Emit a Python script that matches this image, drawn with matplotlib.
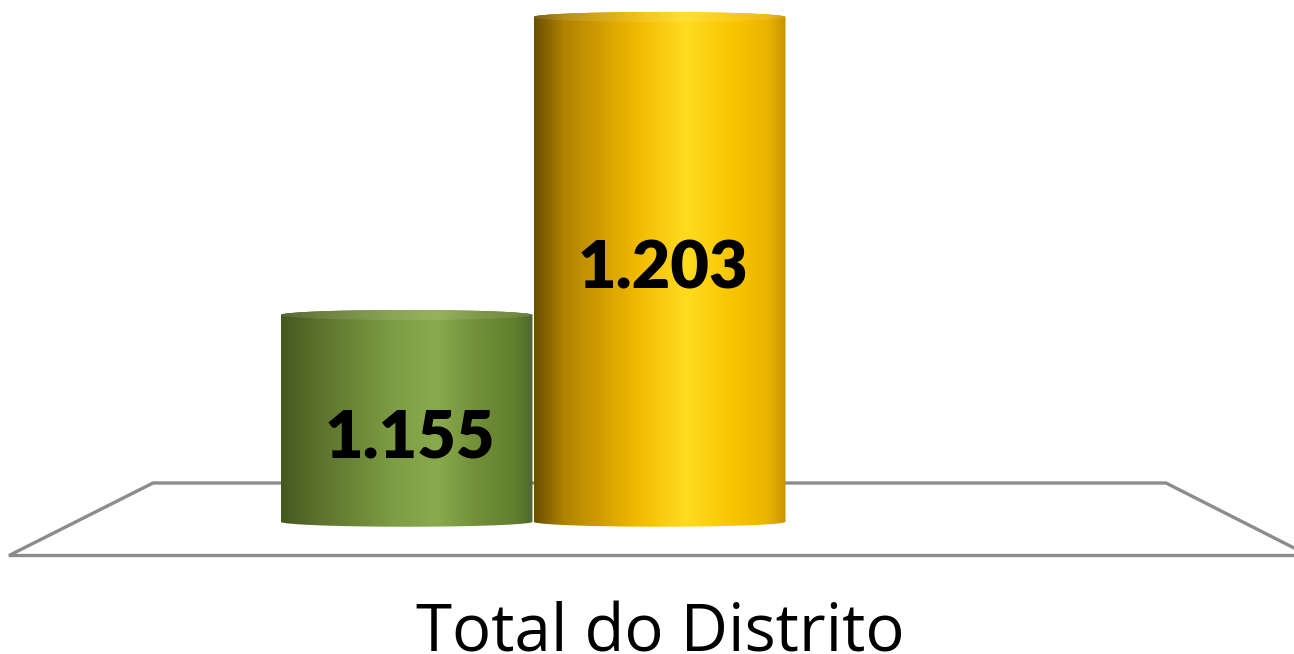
import numpy as np
import matplotlib
matplotlib.use("Agg")
import matplotlib.pyplot as plt
from matplotlib.path import Path
from matplotlib.patches import PathPatch, Ellipse
from matplotlib.colors import LinearSegmentedColormap

# ---- data ----
categories = ["Total do Distrito"]
series_values = [1.155, 1.203]
value_labels = ["1.155", "1.203"]

# ---- style ----
W_PX, H_PX = 1294, 654
fig = plt.figure(figsize=(W_PX / 100, H_PX / 100), dpi=100)
ax = fig.add_axes([0, 0, 1, 1])
ax.axis("off")

base = 1.1217           # value at the floor
px_per_val = 6208.0      # vertical scale
px_per_x = 253.0         # one bar width
cat_px = 659.5           # category centre in pixels
ymax = 1.155 + 315 / px_per_val
ymin = ymax - H_PX / px_per_val
xmin = -cat_px / px_per_x
xmax = (W_PX - cat_px) / px_per_x
ax.set_xlim(xmin, xmax)
ax.set_ylim(ymin, ymax)

def py(px):  # pixel (from top) -> data y
    return ymax - px / px_per_val

def px_x(px):
    return xmin + px / px_per_x

# floor (plot-area floor outline)
floor_back = py(483)
floor_front = py(555)
ax.plot([px_x(10), px_x(153), px_x(1166), px_x(1300)],
        [floor_front, floor_back, floor_back, py(551)],
        color="#8c8c8c", lw=2.4, solid_capstyle="round", zorder=1)
ax.plot([px_x(10), px_x(1300)], [floor_front, floor_front],
        color="#8c8c8c", lw=2.4, zorder=1)

green_cmap = LinearSegmentedColormap.from_list("g", [
    (0.0, "#45581f"), (0.15, "#5b722c"), (0.45, "#7e9d44"),
    (0.62, "#8aaa4e"), (0.8, "#6f8c36"), (0.93, "#62802f"), (1.0, "#4f6826")])
gold_cmap = LinearSegmentedColormap.from_list("y", [
    (0.0, "#6b5000"), (0.12, "#b08300"), (0.4, "#f0b800"),
    (0.6, "#ffdc20"), (0.8, "#f8c400"), (0.93, "#eab400"), (1.0, "#c99300")])
cmaps = [green_cmap, gold_cmap]

offsets = [-1.0, 0.0]
width = 0.996
b = 5.0 / px_per_val  # ellipse semi-minor axis in data units

grad = np.linspace(0, 1, 256).reshape(1, -1)
for i, (v, off) in enumerate(zip(series_values, offsets)):
    c = 0 + off
    x0, x1 = c - width / 2, c + width / 2
    t = np.linspace(np.pi, 2 * np.pi, 60)
    bottom = np.column_stack([c + width / 2 * np.cos(t), base + b * np.sin(t)])
    tt = np.linspace(0, np.pi, 60)
    topedge = np.column_stack([c + width / 2 * np.cos(tt), v + b * np.sin(tt)])
    verts = np.vstack([[[x0, v]], bottom, [[x1, v]], topedge, [[x0, v]]])
    patch = PathPatch(Path(verts), facecolor="none", edgecolor="none")
    ax.add_patch(patch)
    im = ax.imshow(grad, cmap=cmaps[i], aspect="auto",
                   extent=[x0, x1, base - 2 * b, v + 2 * b], zorder=2 + i)
    im.set_clip_path(patch)
    # top cap
    cap = Ellipse((c, v), width, 2 * b, facecolor="none", edgecolor="none")
    ax.add_patch(cap)
    im2 = ax.imshow(grad, cmap=cmaps[i], aspect="auto",
                    extent=[x0, x1, v - b, v + b], zorder=2.5 + i)
    im2.set_clip_path(cap)
    ax.add_patch(Ellipse((c, v), width, 2 * b, facecolor="white",
                         alpha=0.1, edgecolor="none", zorder=2.6 + i))
    ax.text(c + 0.015, (base + v) / 2 - (20 / px_per_val if i == 0 else 0),
            value_labels[i], ha="center", va="center",
            fontsize=48, fontweight="heavy", family="Lato", color="black",
            zorder=5)

ax.text(px_x(660), py(652), categories[0], ha="center", va="baseline",
        fontsize=47, family="Open Sans", color="black")

fig.savefig("out.png", dpi=100)
